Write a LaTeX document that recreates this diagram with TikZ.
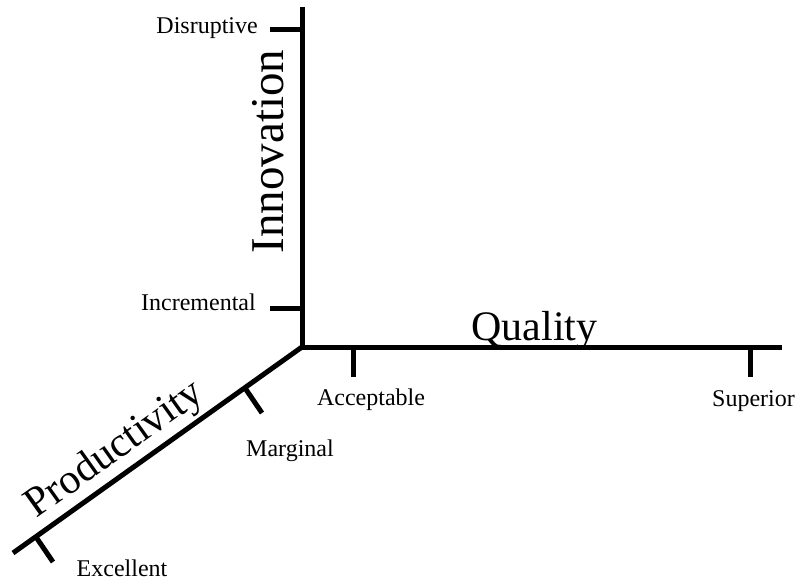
\documentclass[tikz,border=0pt]{standalone}
\usepackage{fontspec}
\setmainfont{Liberation Serif}
\begin{document}
\begin{tikzpicture}[x=1pt,y=-1pt,
  axisline/.style={line width=5pt,line join=miter},
  tickline/.style={line width=5pt},
  lbl/.style={inner sep=0pt,font=\fontsize{24}{28}\selectfont},
  ttl/.style={inner sep=0pt,font=\fontsize{42}{48}\selectfont}]
\useasboundingbox (0,0) rectangle (796,583);
% axis points
\coordinate (O) at (302,347);
\coordinate (Itop) at (302,7);
\coordinate (Qend) at (782,347);
\coordinate (Pend) at (13,553);
% tick points
\coordinate (dA) at (302,30);  \coordinate (dB) at (270,30);
\coordinate (iA) at (302,308); \coordinate (iB) at (270,308);
\coordinate (aA) at (353,347); \coordinate (aB) at (353,377);
\coordinate (sA) at (750,347); \coordinate (sB) at (750,377);
\coordinate (mA) at (245,388); \coordinate (mB) at (262,413);
\coordinate (eA) at (36,537);  \coordinate (eB) at (53,562);
% axes
\draw[axisline] (Itop) -- (O) -- (Qend);
\draw[axisline] (O) -- (Pend);
% ticks
\draw[tickline] (dA) -- (dB);
\draw[tickline] (iA) -- (iB);
\draw[tickline] (aA) -- (aB);
\draw[tickline] (sA) -- (sB);
\draw[tickline] (mA) -- (mB);
\draw[tickline] (eA) -- (eB);
% tick labels
\node[lbl,anchor=base east] (disr) at (258,34) {Disruptive};
\node[lbl,anchor=base east] (incr) at (256,310) {Incremental};
\node[lbl,anchor=base] (acc) at (371,405) {Acceptable};
\node[lbl,anchor=base west] (sup) at (712,406) {Superior};
\node[lbl,anchor=base] (marg) at (290,456) {Marginal};
\node[lbl,anchor=base] (exc) at (122,576) {Excellent};
% axis titles
\node[ttl,anchor=base] (qual) at (534.5,340) {Quality};
\node[ttl,anchor=base,rotate=90,font=\fontsize{47}{52}\selectfont] (innov) at (283,151.5) {Innovation};
\node[ttl,anchor=base,rotate=35.5] (prod) at (121.5,458.5) {Productivity};
\end{tikzpicture}
\end{document}
